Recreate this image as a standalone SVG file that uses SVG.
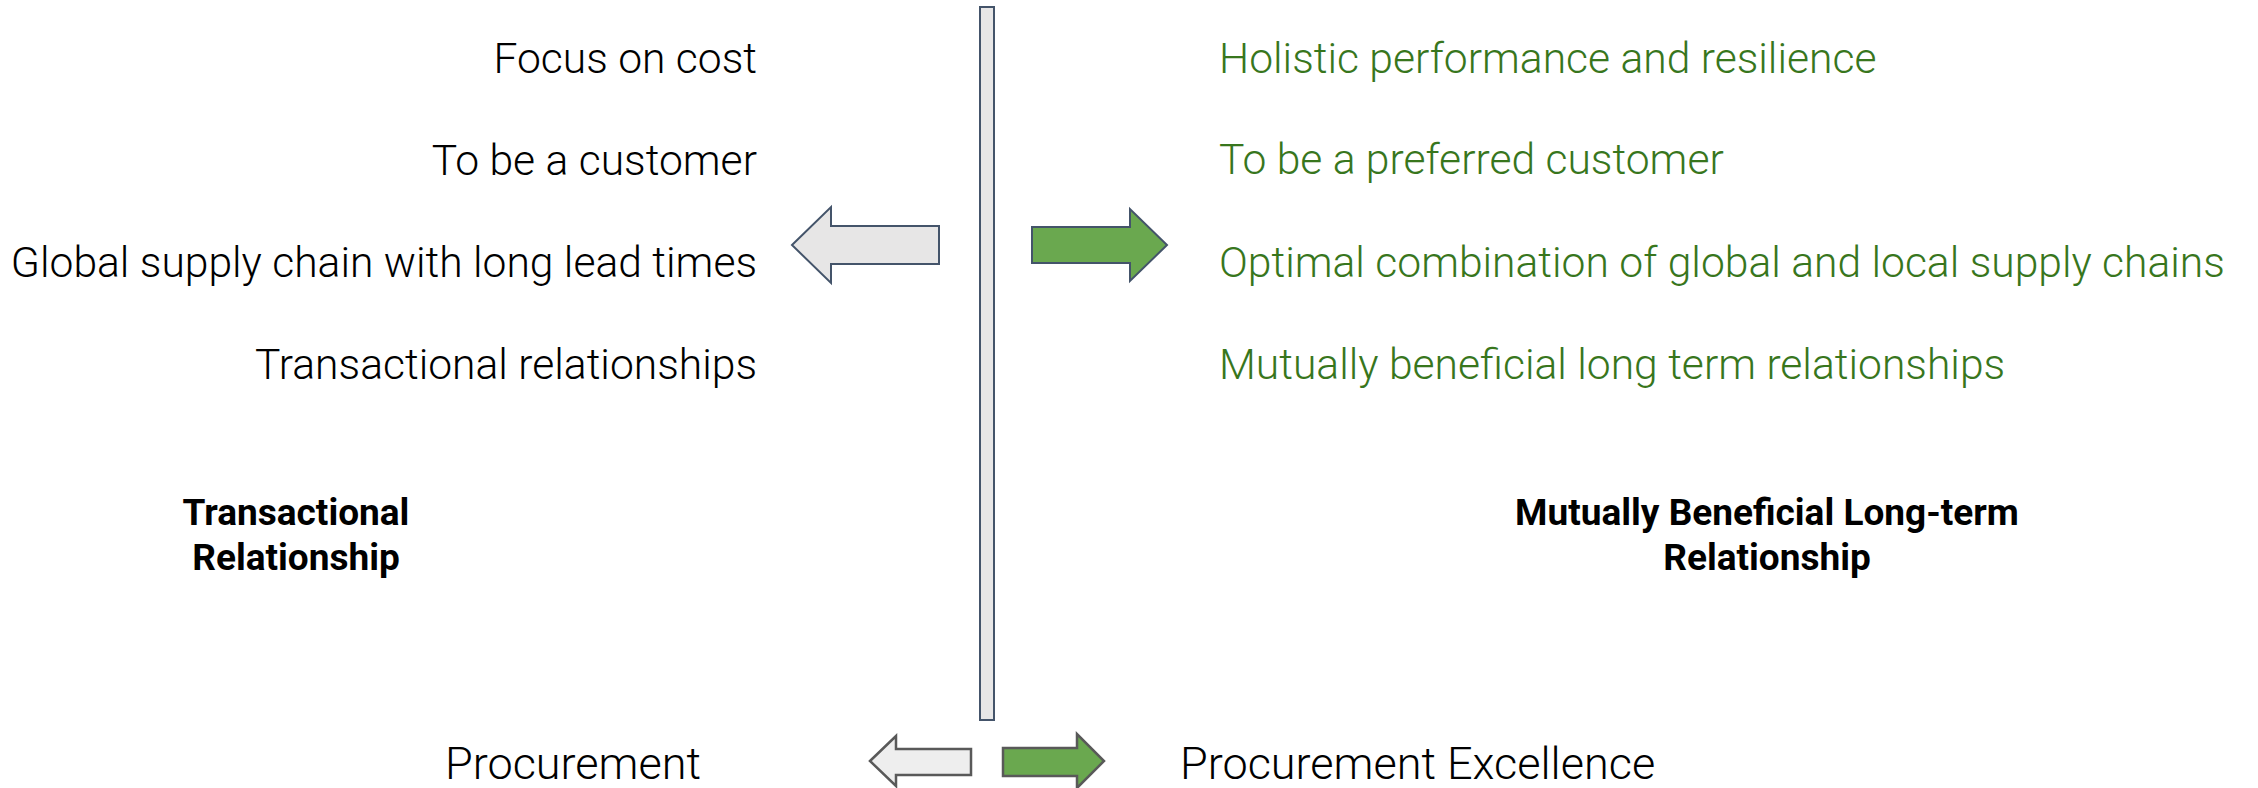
<svg xmlns="http://www.w3.org/2000/svg" width="2258" height="788" viewBox="0 0 2258 788">
<style>
.t{font-family:Roboto,"Liberation Sans",sans-serif;font-weight:300;font-size:42.6px;fill:#000}
.g{fill:#38761D}
.b{font-family:Roboto,"Liberation Sans",sans-serif;font-weight:700;font-size:37px;fill:#000;text-anchor:middle}
.p{font-family:Roboto,"Liberation Sans",sans-serif;font-weight:300;font-size:45px;fill:#000}
.grey{fill:#E7E6E6;stroke:#44546A;stroke-width:2}
.green{fill:#6AA84F;stroke:#44546A;stroke-width:2}
.grey2{fill:#EEEEEE;stroke:#595959;stroke-width:2.5}
.green2{fill:#6AA84F;stroke:#595959;stroke-width:2.5}
</style>
<rect width="2258" height="788" fill="#fff"/>
<g id="left-list">
<text class="t" x="757" y="73" text-anchor="end">Focus on cost</text>
<text class="t" x="757" y="175" text-anchor="end">To be a customer</text>
<text class="t" x="757" y="277" text-anchor="end">Global supply chain with long lead times</text>
<text class="t" x="757" y="379" text-anchor="end">Transactional relationships</text>
</g>
<g id="right-list">
<text class="t g" x="1219" y="73">Holistic performance and resilience</text>
<text class="t g" x="1219" y="174">To be a preferred customer</text>
<text class="t g" x="1219" y="277">Optimal combination of global and local supply chains</text>
<text class="t g" x="1219" y="379">Mutually beneficial long term relationships</text>
</g>
<g id="left-label">
<text class="b" x="296" y="525">Transactional</text>
<text class="b" x="296" y="570">Relationship</text>
</g>
<g id="right-label">
<text class="b" x="1767" y="525">Mutually Beneficial Long-term</text>
<text class="b" x="1767" y="570">Relationship</text>
</g>
<g id="divider">
<rect class="grey" x="980" y="7" width="14" height="713"/>
</g>
<g id="connectors">
<polygon class="grey" points="792,245 831,207 831,226 939,226 939,264 831,264 831,283"/>
<polygon class="green" points="1032,227 1130,227 1130,209 1167,245 1130,281 1130,263 1032,263"/>
<polygon class="grey2" points="870,761 896,736 896,749 971,749 971,775 896,775 896,786"/>
<polygon class="green2" points="1003,748 1077,748 1077,734 1104,761 1077,788 1077,776 1003,776"/>
</g>
<g id="bottom-labels">
<text class="p" x="445" y="779">Procurement</text>
<text class="p" x="1180" y="779">Procurement Excellence</text>
</g>
</svg>
